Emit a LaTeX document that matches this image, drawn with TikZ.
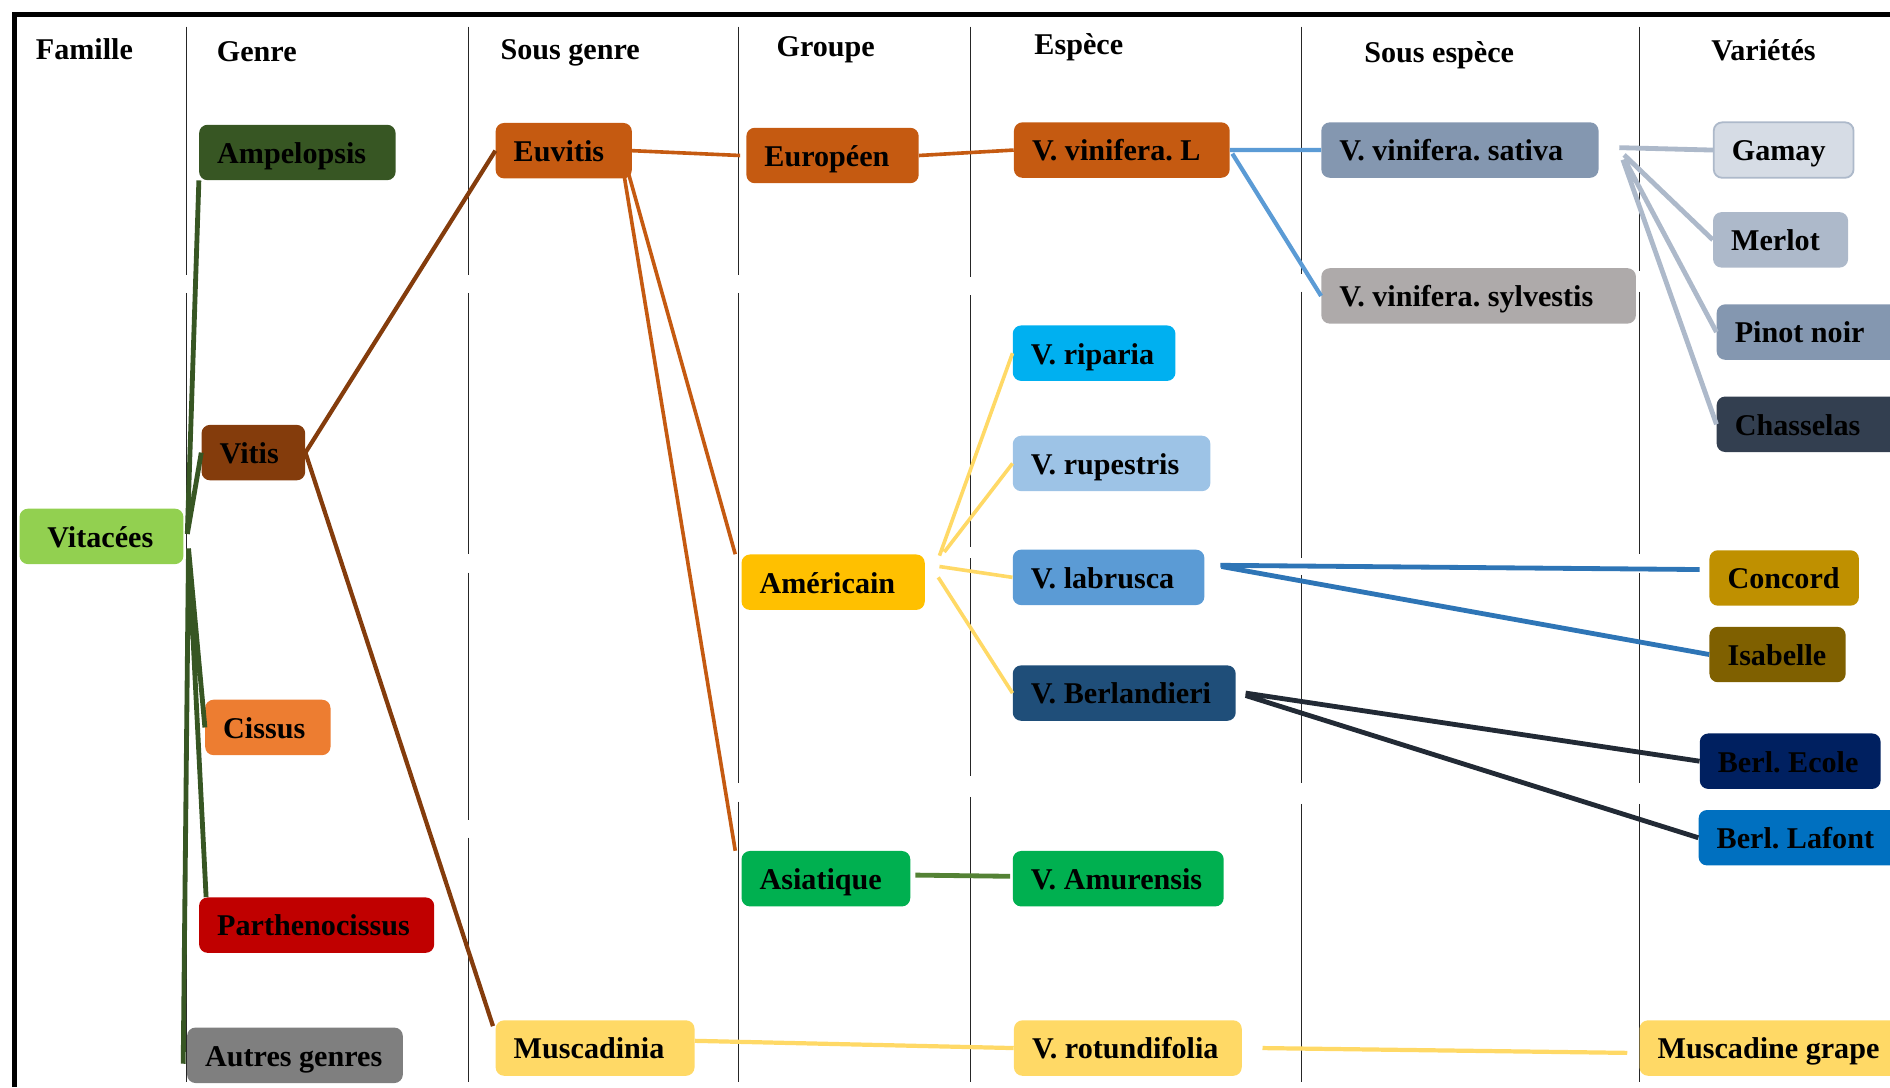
\documentclass[tikz,border=0pt]{standalone}
\usepackage{fontspec}
\setmainfont{Liberation Serif}
\usetikzlibrary{positioning}
\frenchspacing
\definecolor{cAmp}{HTML}{375623}
\definecolor{cVitis}{HTML}{843C0C}
\definecolor{cVit}{HTML}{92D050}
\definecolor{cCis}{HTML}{ED7D31}
\definecolor{cPar}{HTML}{C00000}
\definecolor{cAut}{HTML}{7F7F7F}
\definecolor{cEuv}{HTML}{C55A11}
\definecolor{cMus}{HTML}{FFD966}
\definecolor{cAme}{HTML}{FFC000}
\definecolor{cAsi}{HTML}{00B050}
\definecolor{cRip}{HTML}{00B0F0}
\definecolor{cRup}{HTML}{9DC3E6}
\definecolor{cLab}{HTML}{5B9BD5}
\definecolor{cBer}{HTML}{1F4E79}
\definecolor{cSat}{HTML}{8497B0}
\definecolor{cSyl}{HTML}{AEAAAA}
\definecolor{cGam}{HTML}{D6DCE5}
\definecolor{cMer}{HTML}{ADB9CA}
\definecolor{cCha}{HTML}{333F50}
\definecolor{cCon}{HTML}{BF9000}
\definecolor{cIsa}{HTML}{7F6000}
\definecolor{cEco}{HTML}{002060}
\definecolor{cLaf}{HTML}{0070C0}
\definecolor{lAsi}{HTML}{548235}
\definecolor{lLab}{HTML}{2E75B6}
\definecolor{lBer}{HTML}{222A35}

\begin{document}
\begin{tikzpicture}[x=1pt,y=-1pt,
  tbox/.style={rounded corners=7pt,anchor=west,minimum height=46pt,inner xsep=15pt,
    inner ysep=0pt,text height=21pt,text depth=3pt,font=\bfseries\fontsize{25}{30}\selectfont,
    execute at begin node={\hbox to #1\bgroup},execute at end node={\hfil\egroup}},
  head/.style={font=\bfseries\fontsize{25}{30}\selectfont},
  sep/.style={black!85,line width=1pt},
  link/.style={line width=3.5pt}]
\useasboundingbox (0,0) rectangle (1568,902);
\draw[line width=4pt] (12,902) -- (12,12) -- (1568,12);
\foreach \x/\a/\b in {155/22/228,155/243/898,389/22/228,389/243/460,389/475/680,389/695/898,
  613/22/228,613/243/650,613/665/898,805/22/230,805/245/454,805/463/644,805/661/898,
  1080/22/227,1080/242/463,1080/477/650,1080/667/898,1360/22/225,1360/242/460,1360/475/650,1360/667/898}
  \draw[sep] (\x,\a) -- (\x,\b);

\node[head] (hfam) at (70,41) {Famille};
\node[head] (hgen) at (213,43) {Genre};
\node[head] (hsg) at (473,44) {Sous genre};
\node[head] (hgrp) at (685,41) {Groupe};
\node[head] (hesp) at (895,39) {Espèce};
\node[head] (hse) at (1194,46) {Sous espèce};
\node[head] (hvar) at (1463,42) {Variétés};

\node[tbox=90pt,inner xsep=23pt,fill=cVit] (vit) at (16,445) {Vitacées};
\node[tbox=133pt,fill=cAmp] (amp) at (165,126.5) {Ampelopsis};
\node[tbox=56pt,fill=cVitis] (vitis) at (167,375.5) {Vitis};
\node[tbox=74pt,fill=cCis] (cis) at (170,603.5) {Cissus};
\node[tbox=165pt,fill=cPar] (par) at (165,767.5) {Parthenocissus};
\node[tbox=149pt,fill=cAut] (aut) at (155,875.5) {Autres genres};
\node[tbox=83pt,fill=cEuv] (euv) at (411,125) {Euvitis};
\node[tbox=135pt,fill=cMus] (mus) at (411,869.5) {Muscadinia};
\node[tbox=113pt,fill=cEuv] (eur) at (619,129) {Européen};
\node[tbox=122pt,fill=cAme] (ame) at (615,483) {Américain};
\node[tbox=110pt,fill=cAsi] (asi) at (615,729) {Asiatique};
\node[tbox=149pt,fill=cEuv] (vvl) at (841,124.5) {V. vinifera. L};
\node[tbox=105pt,fill=cRip] (rip) at (840,293) {V. riparia};
\node[tbox=134pt,fill=cRup] (rup) at (840,384.5) {V. rupestris};
\node[tbox=129pt,fill=cLab] (lab) at (840,479) {V. labrusca};
\node[tbox=155pt,fill=cBer] (ber) at (840,575) {V. Berlandieri};
\node[tbox=145pt,fill=cAsi] (amu) at (840,729) {V. Amurensis};
\node[tbox=159pt,fill=cMus] (rot) at (841,869.5) {V. rotundifolia};
\node[tbox=200pt,fill=cSat] (sat) at (1096,124.5) {V. vinifera. sativa};
\node[tbox=231pt,fill=cSyl] (syl) at (1096,245.5) {V. vinifera. sylvestis};
\node[tbox=86pt,fill=cGam,draw=cMer,line width=1.5pt] (gam) at (1421,124.5) {Gamay};
\node[tbox=82pt,fill=cMer] (mer) at (1421,199) {Merlot};
\node[tbox=130pt,fill=cSat] (pin) at (1424,275.5) {Pinot noir};
\node[tbox=130pt,fill=cCha] (cha) at (1424,352) {Chasselas};
\node[tbox=94pt,fill=cCon] (con) at (1418,479.5) {Concord};
\node[tbox=83pt,fill=cIsa] (isa) at (1418,543) {Isabelle};
\node[tbox=120pt,fill=cEco] (eco) at (1410,631.5) {Berl. Ecole};
\node[tbox=140pt,fill=cLaf] (laf) at (1409,695) {Berl. Lafont};
\node[tbox=190pt,fill=cMus] (mgr) at (1360,869.5) {Muscadine grape};

\draw[link,cAmp,line width=4pt] ([xshift=3,yshift=2]vit.east) -- (amp.south west)
  ([xshift=3,yshift=2]vit.east) -- (vitis.west);
\draw[link,cAmp,line width=4pt] ([xshift=4,yshift=-10]vit.east) -- (cis.west)
  ([xshift=4,yshift=-10]vit.east) -- ([xshift=6]par.north west)
  ([xshift=4,yshift=-10]vit.east) -- ([xshift=-3,yshift=-7]aut.west);
\draw[link,cVitis] (vitis.east) -- (euv.west)
  (vitis.east) -- ([xshift=-2,yshift=-5]mus.north west);
\draw[link,cEuv,line width=3pt] (euv.east) -- ([xshift=-5]eur.west)
  ([xshift=-4,yshift=8]euv.south east) -- ([xshift=-5]ame.north west)
  ([xshift=-7,yshift=5]euv.south east) -- ([xshift=-5]asi.north west)
  (eur.east) -- (vvl.west);
\draw[link,cMus] ([yshift=6]mus.east) -- (rot.west)
  ([xshift=17]rot.east) -- ([xshift=-10,yshift=-4]mgr.west);
\draw[link,cMus,line width=3pt] ([xshift=12,yshift=22]ame.east) -- (rip.west)
  ([xshift=16,yshift=25]ame.east) -- (rup.west)
  ([xshift=12,yshift=13]ame.east) -- (lab.west)
  ([xshift=11,yshift=4]ame.east) -- (ber.west);
\draw[link,lAsi,line width=4pt] ([xshift=4,yshift=3]asi.east) -- ([xshift=-2,yshift=2]amu.west);
\draw[link,cLab] (vvl.east) -- (sat.west)
  ([xshift=2,yshift=-3]vvl.east) -- (syl.west);
\draw[link,cMer,line width=4pt] ([xshift=17,yshift=2]sat.east) -- (gam.west)
  ([xshift=21,yshift=-4]sat.east) -- (mer.west)
  ([xshift=22,yshift=-9]sat.east) -- (pin.west)
  ([xshift=20,yshift=-8]sat.east) -- (cha.west);
\draw[link,lLab,line width=4pt] ([xshift=13,yshift=10]lab.east) -- ([xshift=-8,yshift=7]con.west)
  ([xshift=14,yshift=9]lab.east) -- (isa.west);
\draw[link,lBer,line width=4pt] ([xshift=8]ber.east) -- (eco.west)
  ([xshift=8,yshift=-2]ber.east) -- (laf.west);
\end{tikzpicture}
\end{document}
